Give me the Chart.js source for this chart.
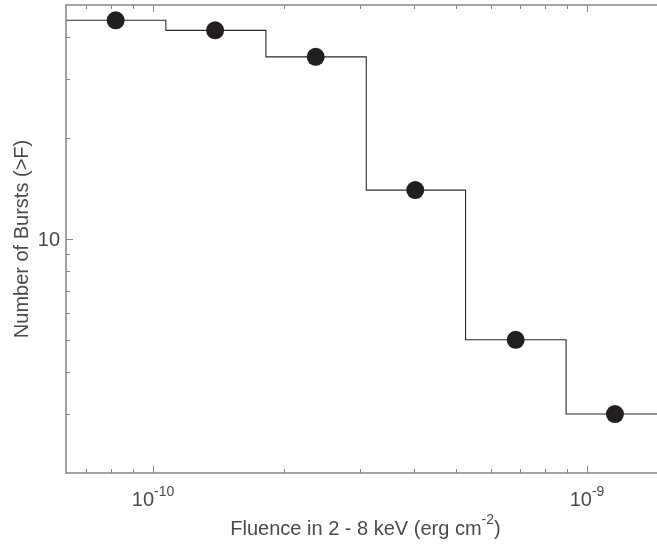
<!DOCTYPE html>
<html>
<head>
<meta charset="utf-8">
<script src="https://cdn.jsdelivr.net/npm/chart.js@4/dist/chart.umd.min.js"></script>
<style>
  body { margin: 0; background: #fff; }
  #wrap { width: 657px; height: 544px; position: relative; }
</style>
</head>
<body>
<div id="wrap"><canvas id="chart"></canvas></div>
<script>
// Burst fluence points (erg cm^-2) and cumulative counts N(>F)
const fluence = [8.2e-11, 1.39e-10, 2.37e-10, 4.02e-10, 6.85e-10, 1.16e-9];
const counts = [45, 42, 35, 14, 5, 3];

// bin edges for the step histogram (first/last = axis limits)
const binEdges = [6.3e-11, 1.07e-10, 1.82e-10, 3.1e-10, 5.25e-10, 8.95e-10, 1.45e-9];

// axis ticks
const xMajorTicks = [1e-10, 1e-9];
const xMajorExp = ['-10', '-9'];
const xMinorTicks = [7e-11, 8e-11, 9e-11, 2e-10, 3e-10, 4e-10, 5e-10, 6e-10, 7e-10, 8e-10, 9e-10];
const yMajorTicks = [10];
const yMinorTicks = [3, 4, 5, 6, 7, 8, 9, 20, 30, 40];

const FONT = "'Liberation Sans', Arial, Helvetica, sans-serif";
const TEXT_COLOR = '#4a4a4a';
const AXIS_COLOR = '#858585';

const pointData = fluence.map((f, i) => ({ x: f, y: counts[i] }));
const stepData = binEdges.map((e, i) => ({ x: e, y: counts[Math.min(i, counts.length - 1)] }));

// draws frame, inward ticks and labels (with superscripts)
const axesPlugin = {
    id: 'axesPlugin',
    afterDraw(chart) {
        const ctx = chart.ctx;
        const area = chart.chartArea;
        const xs = chart.scales.x;
        const ys = chart.scales.y;
        ctx.save();

        // frame: left, bottom, top
        ctx.strokeStyle = AXIS_COLOR;
        ctx.lineWidth = 1.5;
        ctx.beginPath();
        ctx.moveTo(area.right, area.top);
        ctx.lineTo(area.left, area.top);
        ctx.lineTo(area.left, area.bottom);
        ctx.lineTo(area.right, area.bottom);
        ctx.stroke();

        // ticks
        ctx.lineWidth = 1;
        const xTick = (v, len) => {
            const px = Math.round(xs.getPixelForValue(v)) + 0.5;
            ctx.beginPath();
            ctx.moveTo(px, area.bottom);
            ctx.lineTo(px, area.bottom - len);
            ctx.moveTo(px, area.top);
            ctx.lineTo(px, area.top + len);
            ctx.stroke();
        };
        const yTick = (v, len) => {
            const py = Math.round(ys.getPixelForValue(v)) + 0.5;
            ctx.beginPath();
            ctx.moveTo(area.left, py);
            ctx.lineTo(area.left + len, py);
            ctx.stroke();
        };
        xMinorTicks.forEach(v => xTick(v, 4));
        xMajorTicks.forEach(v => xTick(v, 7));
        yMinorTicks.forEach(v => yTick(v, 4));
        yMajorTicks.forEach(v => yTick(v, 7));

        ctx.fillStyle = TEXT_COLOR;
        ctx.textBaseline = 'middle';

        // y tick labels
        ctx.font = '20px ' + FONT;
        ctx.textAlign = 'right';
        yMajorTicks.forEach(v => {
            ctx.fillText(String(v), area.left - 6, ys.getPixelForValue(v) + 1);
        });

        // x tick labels: 10 with superscript exponent
        ctx.textAlign = 'left';
        xMajorTicks.forEach((v, i) => {
            ctx.font = '20px ' + FONT;
            const wBase = ctx.measureText('10').width;
            ctx.font = '14px ' + FONT;
            const wExp = ctx.measureText(xMajorExp[i]).width;
            const x0 = xs.getPixelForValue(v) - (wBase + wExp) / 2;
            const yb = area.bottom + 27;
            ctx.font = '20px ' + FONT;
            ctx.fillText('10', x0, yb);
            ctx.font = '14px ' + FONT;
            ctx.fillText(xMajorExp[i], x0 + wBase, yb - 8);
        });

        // x axis title
        const t1 = 'Fluence in 2 - 8 keV (erg cm';
        const t2 = '-2';
        const t3 = ')';
        ctx.font = '20px ' + FONT;
        const w1 = ctx.measureText(t1).width;
        const w3 = ctx.measureText(t3).width;
        ctx.font = '14px ' + FONT;
        const w2 = ctx.measureText(t2).width;
        let tx = (area.left + area.right) / 2 + 4 - (w1 + w2 + w3) / 2;
        const ty = area.bottom + 56;
        ctx.font = '20px ' + FONT;
        ctx.fillText(t1, tx, ty);
        ctx.font = '14px ' + FONT;
        ctx.fillText(t2, tx + w1, ty - 9);
        ctx.font = '20px ' + FONT;
        ctx.fillText(t3, tx + w1 + w2, ty);

        // y axis title
        ctx.save();
        ctx.translate(22, (area.top + area.bottom) / 2);
        ctx.rotate(-Math.PI / 2);
        ctx.textAlign = 'center';
        ctx.font = '20px ' + FONT;
        ctx.fillText('Number of Bursts (>F)', 0, 0);
        ctx.restore();

        ctx.restore();
    }
};

const chart = new Chart(document.getElementById('chart'), {
    type: 'scatter',
    data: {
        datasets: [
            {
                // burst points
                data: pointData,
                pointRadius: 9,
                pointHoverRadius: 9,
                backgroundColor: '#231f20',
                borderWidth: 0,
                showLine: false
            },
            {
                // cumulative step line
                type: 'line',
                data: stepData,
                stepped: 'before',
                borderColor: '#2a2a2a',
                borderWidth: 1.1,
                pointRadius: 0,
                fill: false
            }
        ]
    },
    options: {
        responsive: true,
        maintainAspectRatio: false,
        animation: false,
        layout: {
            autoPadding: false,
            padding: { left: 66, top: 5, right: 0, bottom: 71 }
        },
        plugins: {
            legend: { display: false },
            tooltip: { enabled: false }
        },
        scales: {
            x: {
                type: 'logarithmic',
                display: false,
                min: 6.3e-11,
                max: 1.45e-9
            },
            y: {
                type: 'logarithmic',
                display: false,
                min: 2,
                max: 50
            }
        }
    },
    plugins: [axesPlugin]
});
</script>
</body>
</html>
